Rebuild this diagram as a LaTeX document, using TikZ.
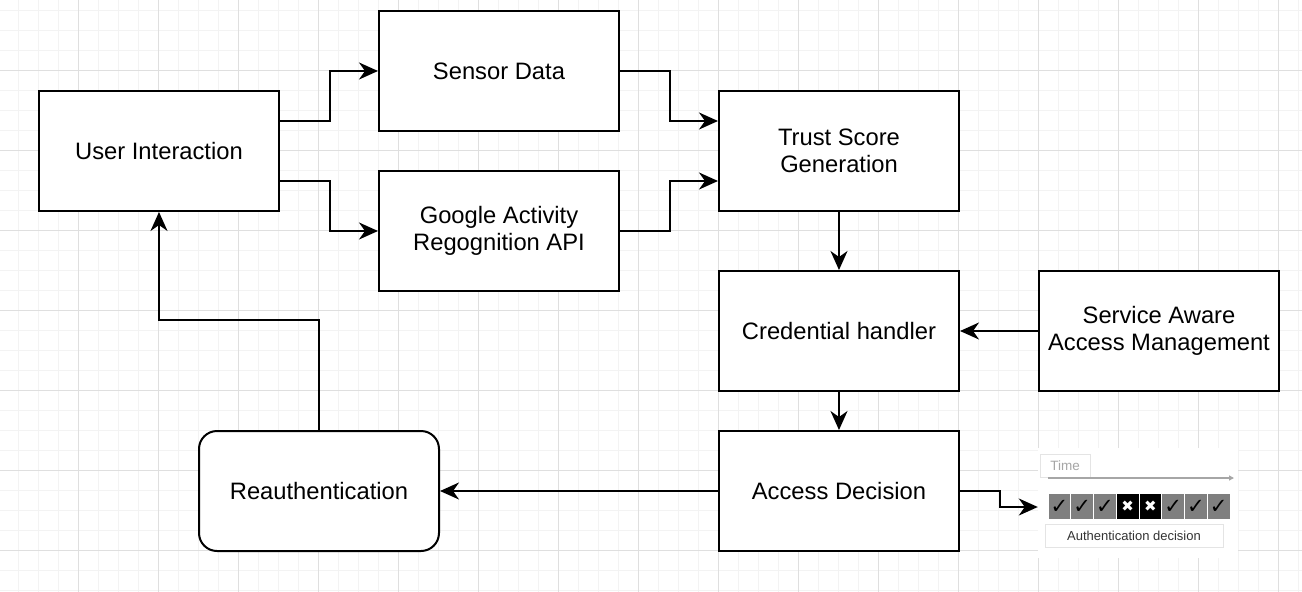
\documentclass[tikz,border=0pt]{standalone}
\usepackage{fontspec}
\setmainfont{Liberation Sans}
\newfontfamily\symfont{DejaVu Sans}
\usetikzlibrary{arrows.meta}
\definecolor{gridminor}{HTML}{F3F3F3}
\definecolor{gridmajor}{HTML}{DFDFDF}
\definecolor{cellgrey}{HTML}{7F7F7F}
\definecolor{lightline}{HTML}{E4E4E4}
\definecolor{timegrey}{HTML}{A6A6A6}
\definecolor{labeltext}{HTML}{333333}
\begin{document}
\begin{tikzpicture}[x=1pt,y=-1pt,
  box/.style={draw=black,line width=2pt,fill=white,minimum width=240pt,minimum height=120pt,
    align=center,font=\fontsize{23.75}{27.5}\selectfont,inner sep=2pt},
  roundbox/.style={box,rounded corners=18pt},
  arr/.style={line width=2pt,-{Stealth[length=19pt 0,width=17pt 0,inset=6pt 0]}},
  thinbox/.style={draw=lightline,line width=0.8pt,fill=white}
]
\useasboundingbox (0,0) rectangle (1302,592);
\fill[white] (0,0) rectangle (1302,592);
% grid
\foreach \x in {18,38,...,1298} \draw[gridminor,line width=1pt] (\x,0) -- (\x,592);
\foreach \y in {10,30,...,590} \draw[gridminor,line width=1pt] (0,\y) -- (1302,\y);
\foreach \x in {78,158,...,1278} \draw[gridmajor,line width=1pt] (\x,0) -- (\x,592);
\foreach \y in {70,150,...,550} \draw[gridmajor,line width=1pt] (0,\y) -- (1302,\y);

% nodes
\node[box] (ui) at (159,151) {User Interaction};
\node[box] (sd) at (499,71) {Sensor Data};
\node[box] (ga) at (499,231) {Google Activity\\Regognition API};
\node[box] (ts) at (839,151) {Trust Score\\Generation};
\node[box] (ch) at (839,331) {Credential handler};
\node[box] (sa) at (1159,331) {Service Aware\\Access Management};
\node[box] (ad) at (839,491) {Access Decision};
\node[roundbox] (re) at (319,491) {Reauthentication};

% image panel
\node[fill=white,minimum width=200pt,minimum height=110pt,inner sep=0pt] (img) at (1138,503) {};
\node[thinbox,minimum width=50pt,minimum height=23pt,inner sep=0pt,
  font=\fontsize{13.5}{15}\selectfont,text=timegrey] (time) at (1065,465.5) {Time};
\draw[timegrey,line width=1.2pt,-{Triangle[length=5pt,width=5pt]}] (1048,478) -- (1234,478);
\foreach \i in {0,...,7} {
  \pgfmathsetmacro{\xa}{1048+22.75*\i}
  \pgfmathsetmacro{\xb}{1048+22.75*(\i+1)}
  \pgfmathsetmacro{\xc}{1048+22.75*(\i+0.5)}
  \ifnum\i=3
    \fill[black] (\xa,493) rectangle (\xb,519);
    \draw[white,line width=0.8pt] (\xa,493) rectangle (\xb,519);
    \node[text=white,font=\symfont\fontsize{15}{17}\selectfont,inner sep=0pt] (c\i) at (\xc,506.5) {✖};
  \else\ifnum\i=4
    \fill[black] (\xa,493) rectangle (\xb,519);
    \draw[white,line width=0.8pt] (\xa,493) rectangle (\xb,519);
    \node[text=white,font=\symfont\fontsize{15}{17}\selectfont,inner sep=0pt] (c\i) at (\xc,506.5) {✖};
  \else
    \fill[cellgrey] (\xa,493) rectangle (\xb,519);
    \draw[white,line width=0.8pt] (\xa,493) rectangle (\xb,519);
    \node[text=black,font=\symfont\fontsize{21}{23}\selectfont,inner sep=0pt] (c\i) at (\xc,506.5) {✓};
  \fi\fi
}
\node[thinbox,minimum width=178pt,minimum height=23pt,inner sep=0pt,
  font=\fontsize{13}{15}\selectfont,text=labeltext] (lab) at (1134,535.5) {Authentication decision};

% connectors
\draw[arr] ([yshift=30pt]ui.east) -- ++(50,0) |- (sd.west);
\draw[arr] ([yshift=-30pt]ui.east) -- ++(50,0) |- (ga.west);
\draw[arr] (sd.east) -- ++(50,0) |- ([yshift=30pt]ts.west);
\draw[arr] (ga.east) -- ++(50,0) |- ([yshift=-30pt]ts.west);
\draw[arr] (ts) -- (ch);
\draw[arr] (sa) -- (ch);
\draw[arr] (ch) -- (ad);
\draw[arr] (ad) -- (re);
\draw[arr] (re.north) -- ++(0,-110) -| (ui.south);
\draw[arr] (ad.east) -- ++(40,0) |- ([yshift=-4pt]img.west);
\end{tikzpicture}
\end{document}
